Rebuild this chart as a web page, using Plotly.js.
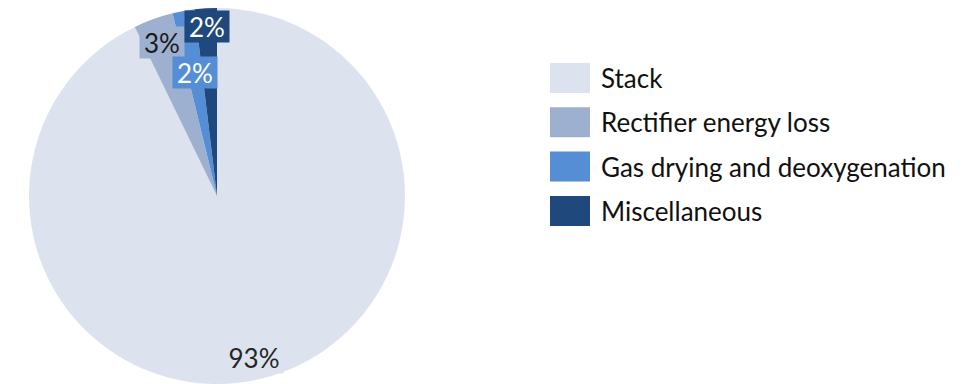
<!DOCTYPE html>
<html>
<head>
<meta charset="utf-8">
<script src="https://cdn.plot.ly/plotly-3.0.1.min.js"></script>
<style>
  html, body { margin: 0; padding: 0; overflow: hidden; background: #ffffff; }
  #chart { width: 964px; height: 392px; }
</style>
</head>
<body>
<div id="chart"></div>
<script>
// ---- data ----
const categories = ['Stack', 'Rectifier energy loss', 'Gas drying and deoxygenation', 'Miscellaneous'];
const shares = [92.8, 3.4, 1.9, 1.9];

// ---- style ----
const sliceColors = ['#dde3ee', '#9eb0cf', '#558ed5', '#1f497d'];
const labelTextColors = ['#262626', '#1a1a1a', '#ffffff', '#ffffff'];
const labelRadiusFrac = [0.88, 0.87, 0.665, 0.905];
const FONT = 'Lato, "Open Sans", sans-serif';
const W = 964, H = 392;
const pieCx = 217, pieCy = 196, pieR = 188;   // pixels from top-left

const domainX = [(pieCx - pieR) / W, (pieCx + pieR) / W];
const domainY = [1 - (pieCy + pieR) / H, 1 - (pieCy - pieR) / H];

const total = shares.reduce((a, b) => a + b, 0);

// data labels positioned at mid-angle of each slice
const annotations = [];
let cum = 0;
shares.forEach((v, i) => {
  const mid = (cum + v / 2) / total * 2 * Math.PI;
  cum += v;
  const r = pieR * labelRadiusFrac[i];
  const xpx = pieCx + r * Math.sin(mid);
  const ypx = pieCy - r * Math.cos(mid);
  annotations.push({
    xref: 'paper', yref: 'paper',
    x: xpx / W, y: 1 - ypx / H,
    xanchor: 'center', yanchor: 'middle',
    text: Math.round(v / total * 100) + '%',
    showarrow: false,
    bgcolor: sliceColors[i],
    width: i === 0 ? 56 : 42, height: 29,
    font: { family: FONT, size: 26, color: labelTextColors[i] }
  });
});

// custom legend
const legX0 = 550, legW = 40, legH = 30, legTop = 78, legStep = 44.3, legTextX = 599;
const shapes = [];
categories.forEach((c, i) => {
  const yc = legTop + i * legStep;
  shapes.push({
    type: 'rect', xref: 'paper', yref: 'paper',
    x0: legX0 / W, x1: (legX0 + legW) / W,
    y0: 1 - (yc + legH / 2) / H, y1: 1 - (yc - legH / 2) / H,
    fillcolor: sliceColors[i], line: { width: 0 }
  });
  annotations.push({
    xref: 'paper', yref: 'paper',
    x: legTextX / W, y: 1 - yc / H,
    xanchor: 'left', yanchor: 'middle',
    text: c, showarrow: false,
    font: { family: FONT, size: 26, color: '#111111' }
  });
});

const trace = {
  type: 'pie',
  labels: categories,
  values: shares,
  sort: false,
  direction: 'clockwise',
  rotation: 0,
  textinfo: 'none',
  hoverinfo: 'label+percent',
  marker: { colors: sliceColors, line: { width: 0 } },
  domain: { x: domainX, y: domainY },
  showlegend: false
};

Plotly.newPlot('chart', [trace], {
  width: W, height: H,
  margin: { l: 0, r: 0, t: 0, b: 0 },
  paper_bgcolor: '#ffffff',
  showlegend: false,
  annotations: annotations,
  shapes: shapes,
  font: { family: FONT }
}, { displayModeBar: false, staticPlot: true });
</script>
</body>
</html>
